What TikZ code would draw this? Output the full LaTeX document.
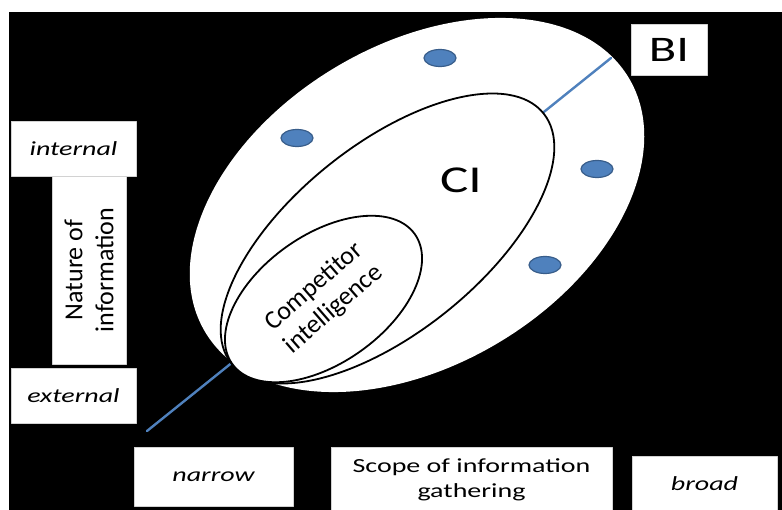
\documentclass[tikz,border=0pt]{standalone}
\usepackage{fontspec}
\setmainfont{Carlito}
\newfontfamily\widefont{Carlito}[FakeStretch=1.4]
\definecolor{dotblue}{RGB}{79,129,189}
\definecolor{dotedge}{RGB}{56,93,138}
\definecolor{axisblue}{RGB}{79,129,189}

\begin{document}
\begin{tikzpicture}[x=1pt,y=-1pt,line cap=round,line join=round,
  labelbox/.style={fill=white,draw=gray!35,line width=0.5pt,inner sep=0pt,align=center},
  ring/.style={fill=white,draw=black,line width=1.8pt},
  dot/.style={fill=dotblue,draw=dotedge,line width=1.2pt}]
\useasboundingbox (0,0) rectangle (782,510);
\clip (0,0) rectangle (782,510);
\fill[black] (9,12) rectangle (782,510);
% BI region
\fill[white,rotate around={31:(417,205)}] (417,205) ellipse [x radius=247,y radius=160];
% axis through the regions
\coordinate (axislow) at (147,431);
\coordinate (axishigh) at (611,58);
\draw[axisblue,line width=2.4pt] (axislow) -- (axishigh);
% CI and competitor intelligence
\draw[ring,rotate around={38.7:(387.5,238.5)}] (387.5,238.5) ellipse [x radius=200,y radius=94];
\draw[ring,rotate around={35.4:(323.5,299)}] (323.5,299) ellipse [x radius=112,y radius=64];
\foreach \px/\py in {440/58,297/138,597/169,545/265}
  \draw[dot] (\px,\py) ellipse [x radius=16,y radius=8.5];
\node[font=\widefont\fontsize{38}{44}\selectfont] (ci) at (461,180) {CI};
\node[rotate=41,align=center,font=\fontsize{26}{30}\selectfont] (comp) at (324,298) {Competitor\\intelligence};
\node[labelbox,minimum width=76pt,minimum height=51pt,font=\widefont\fontsize{36}{40}\selectfont] (bi) at (669,49.5) {BI};
% nature of information
\node[labelbox,minimum width=125pt,minimum height=55pt,font=\widefont\itshape\fontsize{20}{24}\selectfont] (internal) at (73.5,148.5) {internal};
\node[labelbox,rotate=90,minimum width=188pt,minimum height=74pt,font=\fontsize{26}{31}\selectfont] (nature) at (89,270) {Nature of\\information};
\node[labelbox,minimum width=125pt,minimum height=55pt,font=\widefont\itshape\fontsize{20}{24}\selectfont] (external) at (73.5,395.5) {external};
% scope of information gathering
\node[labelbox,minimum width=159pt,minimum height=59pt,font=\widefont\itshape\fontsize{20}{24}\selectfont] (narrow) at (213.5,476.5) {narrow};
\node[labelbox,minimum width=281pt,minimum height=65pt,font=\widefont\fontsize{20}{25}\selectfont] (scope) at (471.5,479.5) {Scope of information\\gathering};
\node[labelbox,minimum width=145pt,minimum height=56pt,font=\widefont\itshape\fontsize{20}{24}\selectfont] (broad) at (704.5,484) {broad};
\end{tikzpicture}
\end{document}
